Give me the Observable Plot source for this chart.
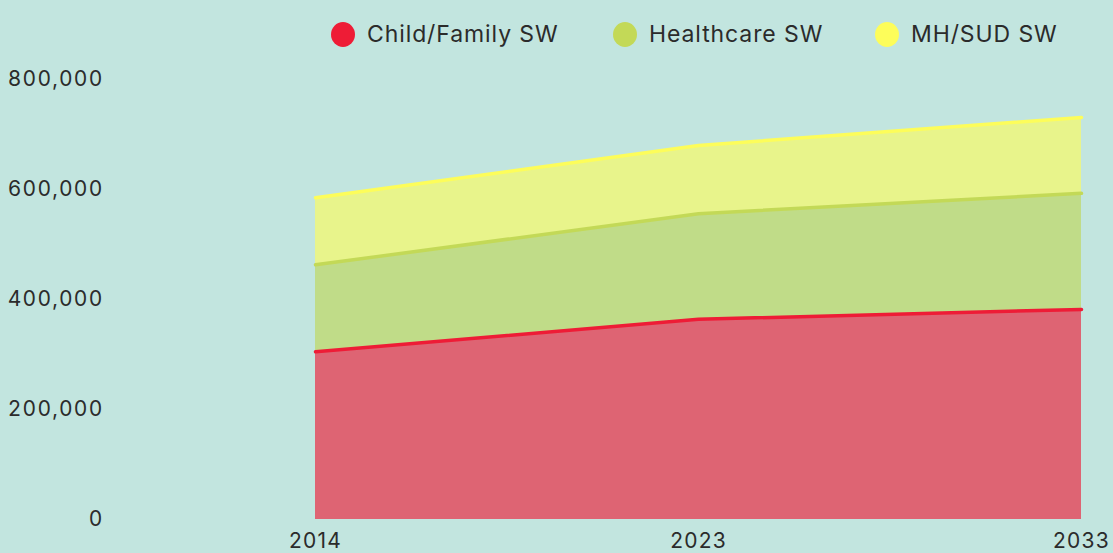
<!DOCTYPE html>
<html>
<head>
<meta charset="utf-8">
<script src="https://cdn.jsdelivr.net/npm/d3@7"></script>
<script src="https://cdn.jsdelivr.net/npm/@observablehq/plot@0.6"></script>
<style>
  html, body { margin: 0; padding: 0; background: #c2e5df; }
  body { width: 1113px; height: 553px; overflow: hidden; font-family: Inter, "Open Sans", sans-serif; color: #2b2b2b; }
  #legend { position: relative; height: 60px; }
  .item { position: absolute; top: 21px; display: flex; align-items: center; font-size: 23px; line-height: 26px; letter-spacing: 0.9px; }
  .dot { width: 24px; height: 25px; border-radius: 50%; margin-right: 12px; }
  #chart svg text { letter-spacing: 1.2px; }
</style>
</head>
<body>
<div id="legend"></div>
<div id="chart"></div>
<script>
const years = [2014, 2023, 2033];
const seriesNames = ["Child/Family SW", "Healthcare SW", "MH/SUD SW"];
const childFamily = [305000, 364000, 382000];
const healthcare = [158000, 192000, 211000];
const mhSud = [122000, 124000, 138000];
const yTicks = [0, 200000, 400000, 600000, 800000];
const lineColors = ["#ee1c36", "#c3d957", "#fdfd5a"];
const fillColors = ["#de6473", "#c0dc88", "#e8f48b"];

const seriesValues = [childFamily, healthcare, mhSud];
const data = [];
seriesNames.forEach((s, i) => years.forEach((y, j) => data.push({year: String(y), series: s, value: seriesValues[i][j]})));

// legend
const legendX = [331, 613, 875];
const legend = document.getElementById("legend");
seriesNames.forEach((s, i) => {
  const d = document.createElement("div");
  d.className = "item";
  d.style.left = legendX[i] + "px";
  d.innerHTML = `<span class="dot" style="background:${lineColors[i]}"></span><span>${s}</span>`;
  legend.appendChild(d);
});

const plot = Plot.plot({
  width: 1113,
  height: 493,
  marginTop: 19,
  marginBottom: 34,
  marginLeft: 314,
  marginRight: 32,
  style: {background: "transparent", fontFamily: "Inter, 'Open Sans', sans-serif", fontSize: "21px", color: "#2b2b2b"},
  x: {type: "point", domain: years.map(String), padding: 0, label: null},
  y: {domain: [0, 800000], label: null},
  color: {domain: seriesNames, range: fillColors},
  marks: [
    Plot.areaY(data, {x: "year", y: "value", fill: "series", order: seriesNames}),
    Plot.lineY(data, Plot.stackY2({x: "year", y: "value", z: "series", stroke: d => lineColors[seriesNames.indexOf(d.series)], order: seriesNames, strokeWidth: 3.5})),
    Plot.axisY({ticks: yTicks, tickFormat: d3.format(","), tickSize: 0, tickPadding: 211, label: null, fontSize: 21}),
    Plot.axisX({tickSize: 0, tickPadding: 14, label: null, fontSize: 21})
  ]
});
document.getElementById("chart").appendChild(plot);
</script>
</body>
</html>
